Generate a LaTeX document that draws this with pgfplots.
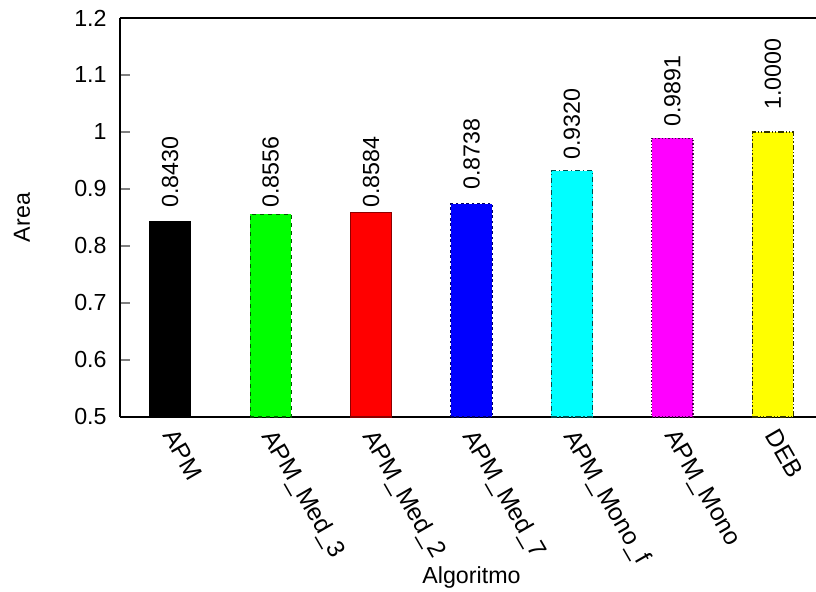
\documentclass[border=0pt]{standalone}
\usepackage{fontspec}
\setmainfont{Liberation Sans}
\usepackage{pgfplots}
\pgfplotsset{compat=1.18}
\newcommand{\chartfont}{\fontsize{17.5}{21}\selectfont}
\definecolor{gpgreen}{RGB}{0,255,0}
\definecolor{gpred}{RGB}{255,0,0}
\definecolor{gpblue}{RGB}{0,0,255}
\definecolor{gpcyan}{RGB}{0,255,255}
\definecolor{gpmagenta}{RGB}{255,0,255}
\definecolor{gpyellow}{RGB}{255,255,0}
\begin{document}
\begin{tikzpicture}
\begin{axis}[
  name=ax,
  scale only axis,
  width=522bp, height=299.25bp,
  xmin=-0.5, xmax=6.43,
  ymin=0.5, ymax=1.2,
  ytick={0.5,0.6,0.7,0.8,0.9,1.0,1.1,1.2},
  xtick={0,1,2,3,4,5,6},
  xticklabels={APM,APM\_Med\_3,APM\_Med\_2,APM\_Med\_7,APM\_Mono\_f,APM\_Mono,DEB},
  axis x line*=box, axis y line*=left,
  axis line style={line width=1.1bp},
  xtick style={draw=none},
  ytick style={line width=0.8bp},
  tick align=inside, major tick length=7.5bp,
  /pgf/number format/assume math mode=true,
  tick label style={font=\chartfont},
  yticklabel style={xshift=-6.5bp},
  xticklabel style={font=\fontsize{18.5}{22}\selectfont, xshift=5bp, yshift=-7.5bp, rotate=-60, anchor=north west, inner sep=0pt},
  xlabel={Algoritmo},
  ylabel={Area},
  every axis x label/.style={at={(axis description cs:0.505,-0.4035)}, anchor=center, font=\chartfont},
  every axis y label/.style={at={(axis description cs:-0.1408,0.5)}, anchor=center, rotate=90, font=\chartfont},
  bar width=0.41,
  clip=false,
]
\addplot[ybar, bar shift=0pt, fill=black, draw=black, line width=0.8bp] coordinates {(0,0.8430)};
\addplot[ybar, bar shift=0pt, fill=gpgreen, draw=gpgreen!35!black, dashed, line width=0.8bp] coordinates {(1,0.8556)};
\addplot[ybar, bar shift=0pt, fill=gpred, draw=gpred!55!black, line width=0.8bp] coordinates {(2,0.8584)};
\addplot[ybar, bar shift=0pt, fill=gpblue, draw=gpblue!40!black, dash pattern=on 2bp off 2bp, line width=0.8bp] coordinates {(3,0.8738)};
\addplot[ybar, bar shift=0pt, fill=gpcyan, draw=gpcyan!30!black, dash pattern=on 4bp off 2bp on 1bp off 2bp, line width=0.8bp] coordinates {(4,0.9320)};
\addplot[ybar, bar shift=0pt, fill=gpmagenta, draw=gpmagenta!30!black, dash pattern=on 1bp off 1.5bp, line width=0.8bp] coordinates {(5,0.9891)};
\addplot[ybar, bar shift=0pt, fill=gpyellow, draw=gpyellow!20!black, dash pattern=on 4bp off 1.5bp on 1bp off 1.5bp on 1bp off 1.5bp, line width=0.8bp] coordinates {(6,1.0000)};
% value labels, placed where the reference sets them
\addplot[draw=none, mark=none, nodes near coords, point meta=explicit symbolic,
  every node near coord/.style={rotate=90, anchor=west, inner sep=0pt, font=\chartfont}]
  table[meta=lab] {
x y lab
0 0.8667 0.8430
1 0.8667 0.8556
2 0.8667 0.8584
3 0.8982 0.8738
4 0.9509 0.9320
5 1.0088 0.9891
6 1.0386 1.0000
};
\end{axis}
\pgfresetboundingbox
\path[use as bounding box] ([xshift=-90bp,yshift=-131.25bp]ax.south west) rectangle ([yshift=13.5bp]ax.north east);
\end{tikzpicture}
\end{document}
